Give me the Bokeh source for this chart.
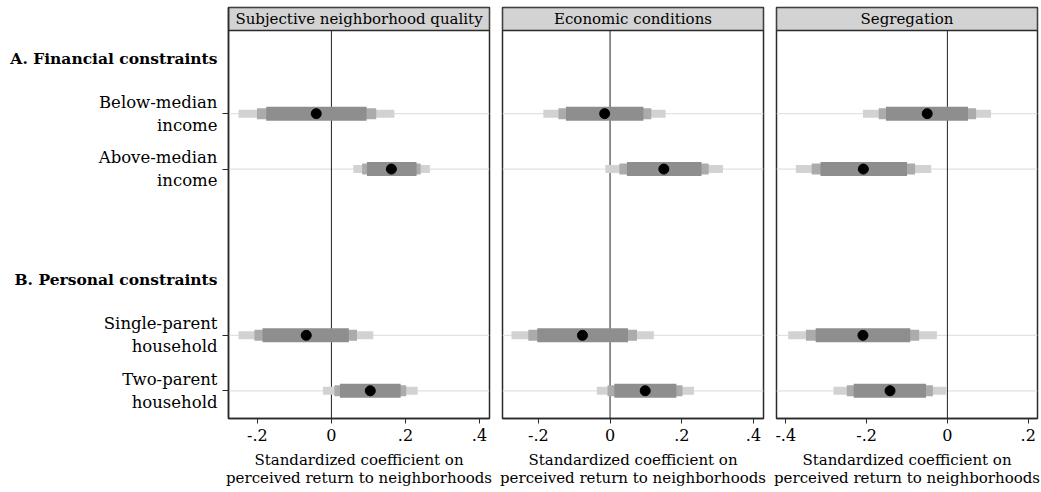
from bokeh.plotting import figure
from bokeh.layouts import row
from bokeh.models import Range1d, FixedTicker, CustomJSTickFormatter, Span
from bokeh.embed import file_html
from bokeh.resources import INLINE
from bokeh.core.properties import value

# ---- data -------------------------------------------------------------
panel_titles = ["Subjective neighborhood quality", "Economic conditions", "Segregation"]
group_headers = ["A. Financial constraints", "B. Personal constraints"]
header_pos = [0, 4]
row_labels = ["Below-median\nincome", "Above-median\nincome",
              "Single-parent\nhousehold", "Two-parent\nhousehold"]
row_pos = [1, 2, 5, 6]
x_ticks = [-0.4, -0.2, 0.0, 0.2, 0.4]
x_limits = [(-0.278, 0.427), (-0.300, 0.428), (-0.423, 0.223)]

# Subjective neighborhood quality
subj_coef = [-0.041, 0.162, -0.068, 0.105]
subj_lo90 = [-0.176, 0.096, -0.186, 0.023]
subj_hi90 = [0.095, 0.230, 0.047, 0.187]
subj_lo95 = [-0.201, 0.083, -0.208, 0.008]
subj_hi95 = [0.121, 0.241, 0.069, 0.202]
subj_lo99 = [-0.251, 0.059, -0.251, -0.023]
subj_hi99 = [0.170, 0.266, 0.113, 0.233]

# Economic conditions
econ_coef = [-0.015, 0.150, -0.077, 0.098]
econ_lo90 = [-0.123, 0.047, -0.203, 0.012]
econ_hi90 = [0.093, 0.255, 0.050, 0.185]
econ_lo95 = [-0.144, 0.026, -0.228, -0.007]
econ_hi95 = [0.115, 0.275, 0.075, 0.202]
econ_lo99 = [-0.186, -0.013, -0.275, -0.037]
econ_hi99 = [0.155, 0.315, 0.122, 0.234]

# Segregation
seg_coef = [-0.050, -0.208, -0.209, -0.142]
seg_lo90 = [-0.152, -0.314, -0.326, -0.232]
seg_hi90 = [0.051, -0.100, -0.092, -0.053]
seg_lo95 = [-0.170, -0.336, -0.350, -0.249]
seg_hi95 = [0.071, -0.080, -0.070, -0.036]
seg_lo99 = [-0.209, -0.375, -0.394, -0.282]
seg_hi99 = [0.108, -0.040, -0.026, -0.003]

panels = [
    (subj_coef, subj_lo90, subj_hi90, subj_lo95, subj_hi95, subj_lo99, subj_hi99),
    (econ_coef, econ_lo90, econ_hi90, econ_lo95, econ_hi95, econ_lo99, econ_hi99),
    (seg_coef, seg_lo90, seg_hi90, seg_lo95, seg_hi95, seg_lo99, seg_hi99),
]

# ---- styling ----------------------------------------------------------
FONT = "DejaVu Serif"
FRAME_W = 261
LABEL_W = 222         # width of the left-hand label column
TICK_W = 6            # room for the row tick marks of the first panel
PLOT_H = 388          # height of the coefficient area
STRIP_H = 23          # height of the grey title strip
TOP, BOTTOM = 7, 74
UNIT = PLOT_H / 7.0   # pixels per row slot
STRIP = STRIP_H / UNIT
C99, C95, C90 = "#d2d2d2", "#ababab", "#8e8e8e"
EDGE = "#2a2a2a"
Y_RANGE = (-6.5, 0.5 + STRIP)

fmt = CustomJSTickFormatter(code="""
    if (Math.abs(tick) < 1e-9) return "0";
    const s = tick.toFixed(1);
    return s.replace("0.", ".");
""")
blank = CustomJSTickFormatter(code="return '';")

# ---- label column (group headers and row labels) -----------------------
lab = figure(frame_width=LABEL_W, frame_height=PLOT_H + STRIP_H,
             x_range=Range1d(0, LABEL_W), y_range=Range1d(*Y_RANGE),
             min_border_left=0, min_border_right=0,
             min_border_top=TOP, min_border_bottom=BOTTOM,
             toolbar_location=None, output_backend="svg")
lab.axis.visible = False
lab.grid.visible = False
lab.outline_line_color = None
lab.text(x=[LABEL_W - 5] * len(group_headers), y=[-h for h in header_pos],
         text=group_headers, text_font=value(FONT), text_font_size="15.5px",
         text_font_style="bold", text_align="right", text_baseline="middle",
         text_color="black")
lab.text(x=[LABEL_W - 5] * len(row_labels), y=[-r for r in row_pos],
         text=row_labels, text_font=value(FONT), text_font_size="16.5px",
         text_align="right", text_baseline="middle", text_color="black",
         text_line_height=1.2)

figs = [lab]
for i, (title, data, lim) in enumerate(zip(panel_titles, panels, x_limits)):
    coef, lo90, hi90, lo95, hi95, lo99, hi99 = data
    ys = [-p for p in row_pos]
    left_border = TICK_W if i == 0 else 7
    right_border = 4 if i == 2 else 6

    p = figure(frame_width=FRAME_W, frame_height=PLOT_H + STRIP_H,
               x_range=Range1d(*lim), y_range=Range1d(*Y_RANGE),
               min_border_left=left_border, min_border_right=right_border,
               min_border_top=TOP, min_border_bottom=BOTTOM,
               toolbar_location=None, output_backend="svg")
    p.xgrid.visible = False
    p.ygrid.visible = False
    p.outline_line_color = EDGE
    p.outline_line_width = 1.5
    p.background_fill_color = "white"
    p.border_fill_color = "white"

    # row guide lines
    for y in ys:
        p.add_layout(Span(location=y, dimension="width", line_color="#e2e2e2",
                          line_width=1.2, level="underlay"))

    # zero reference line
    p.segment(x0=[0], x1=[0], y0=[Y_RANGE[0]], y1=[0.5], line_color="#222222", line_width=1)

    # nested confidence intervals (99 / 95 / 90) and point estimates
    p.hbar(y=ys, left=lo99, right=hi99, height=8 / UNIT, fill_color=C99, line_color=None)
    p.hbar(y=ys, left=lo95, right=hi95, height=11 / UNIT, fill_color=C95, line_color=None)
    p.hbar(y=ys, left=lo90, right=hi90, height=14 / UNIT, fill_color=C90, line_color=None)
    p.scatter(x=coef, y=ys, size=10, fill_color="black", line_color="black")

    # title strip
    p.quad(left=[lim[0]], right=[lim[1]], bottom=[0.5], top=[0.5 + STRIP],
           fill_color="#d3d3d3", line_color=EDGE, line_width=1.5)
    p.text(x=[(lim[0] + lim[1]) / 2], y=[0.5 + STRIP / 2], text=[title],
           text_font=value(FONT), text_font_size="15px", text_align="center",
           text_baseline="middle", text_color="black")

    # x axis
    xa = p.xaxis[0]
    xa.ticker = FixedTicker(ticks=[t for t in x_ticks if lim[0] <= t <= lim[1]])
    xa.formatter = fmt
    xa.axis_label = "Standardized coefficient on\nperceived return to neighborhoods"
    xa.axis_label_text_font = FONT
    xa.axis_label_text_font_size = "15px"
    xa.axis_label_text_font_style = "normal"
    xa.axis_label_text_color = "black"
    xa.axis_label_text_line_height = 1.0
    xa.axis_label_standoff = 7
    xa.major_label_text_font = FONT
    xa.major_label_text_font_size = "16px"
    xa.major_label_text_color = "black"
    xa.major_label_standoff = 5
    xa.major_tick_out = 5
    xa.major_tick_in = 0
    xa.minor_tick_out = 0
    xa.minor_tick_in = 0
    xa.axis_line_color = EDGE
    xa.axis_line_width = 1.5
    xa.major_tick_line_color = EDGE

    # y axis: tick marks only, on the first panel
    ya = p.yaxis[0]
    if i == 0:
        ya.ticker = FixedTicker(ticks=ys)
        ya.formatter = blank
        ya.major_label_standoff = 0
        ya.major_label_text_font_size = "0px"
        ya.major_tick_out = TICK_W
        ya.major_tick_in = 0
        ya.minor_tick_out = 0
        ya.minor_tick_in = 0
        ya.axis_line_color = EDGE
        ya.axis_line_width = 1.5
        ya.major_tick_line_color = EDGE
        ya.major_tick_line_width = 1.2
    else:
        ya.visible = False

    figs.append(p)

layout = row(*figs, spacing=0)
open("out.html", "w").write(file_html(layout, INLINE))
